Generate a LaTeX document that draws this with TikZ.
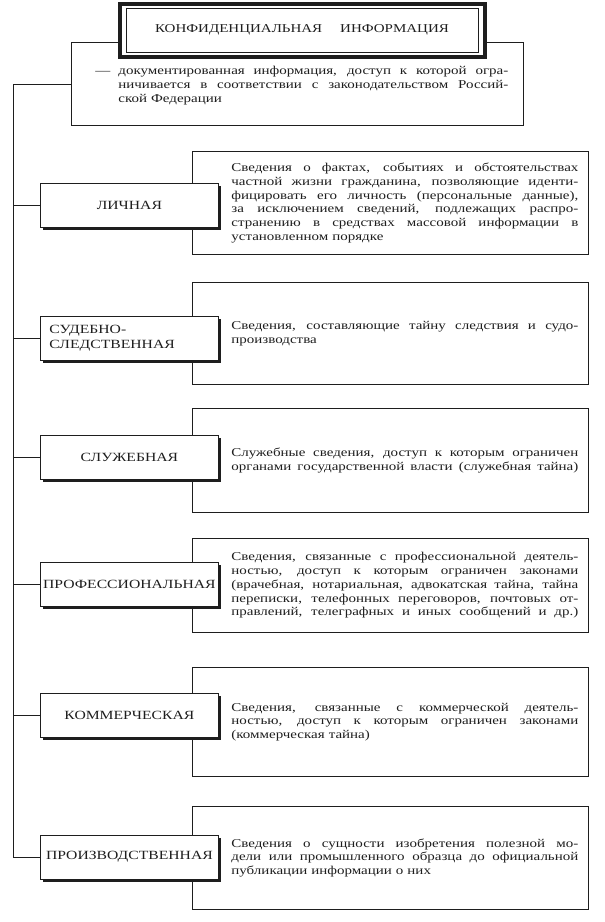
\documentclass[tikz,border=0pt]{standalone}
\usepackage{fontspec}
\setmainfont{Liberation Serif}[FakeStretch=1.25]
\usetikzlibrary{positioning,shadows}
\definecolor{inkgray}{HTML}{1E1E1E}

\newlength{\infoind}\setlength{\infoind}{27.25pt}
\newlength{\infow}\setlength{\infow}{260.25pt}
\newcommand{\jl}[1]{\hspace*{\infoind}\makebox[\infow][s]{\spaceskip=0pt\xspaceskip=0pt\relax #1}}
\newcommand{\lastl}[1]{\hspace*{\infoind}#1}

\begin{document}
\begin{tikzpicture}[
  x=0.75pt, y=-0.75pt,
  headframe/.style={draw=inkgray, line width=2.4pt, fill=white,
                    minimum width=273.75pt, minimum height=39.75pt},
  headbox/.style={draw=inkgray, line width=0.6pt, fill=white,
                  font=\fontsize{9}{11}\selectfont, text=inkgray,
                  minimum width=264pt, minimum height=33pt},
  defbox/.style={draw=inkgray, line width=0.6pt, anchor=north west,
                 align=left, text width=335pt, inner xsep=2pt,
                 font=\fontsize{9}{10.3}\selectfont, text=inkgray},
  kindbox/.style={draw=inkgray, line width=0.6pt, fill=white, anchor=west,
                  font=\fontsize{9.4}{11}\selectfont, align=center, text=inkgray,
                  minimum width=133.5pt, minimum height=33pt, inner xsep=1pt,
                  general shadow={fill=inkgray, shadow xshift=2pt, shadow yshift=-2pt}},
  infobox/.style={draw=inkgray, line width=0.6pt, anchor=north west,
                  align=left, text width=293pt, inner xsep=2pt,
                  font=\fontsize{9}{10.3}\selectfont, text=inkgray},
  link/.style={draw=inkgray, line width=0.6pt},
]
  \useasboundingbox (0,0) rectangle (604,922);

  %% Definition under the title
  \node[defbox, minimum height=62.25pt] (defn) at (71,42)
    {\rule{0pt}{9pt}\hspace*{16pt}\makebox[17.25pt][l]{—}\makebox[292.5pt][s]{\spaceskip=0pt\xspaceskip=0pt\relax документированная информация, доступ к которой огра-}\\
     \hspace*{33.25pt}\makebox[292.5pt][s]{\spaceskip=0pt\relax ничивается в соответствии с законодательством Россий-}\\
     \hspace*{33.25pt}ской Федерации};

  %% Title with double frame
  \node[headframe] (headfr) at (302.5,30.5) {};
  \node[headbox] (head) at (302,30) {КОНФИДЕНЦИАЛЬНАЯ\hspace{13.5pt}ИНФОРМАЦИЯ};

  %% Description boxes
  \node[infobox, minimum height=77.25pt] (i1) at (192,151)
    {\jl{Сведения о фактах, событиях и обстоятельствах}\\
     \jl{частной жизни гражданина, позволяющие иденти-}\\
     \jl{фицировать его личность (персональные данные),}\\
     \jl{за исключением сведений, подлежащих распро-}\\
     \jl{странению в средствах массовой информации в}\\
     \lastl{установленном порядке}};
  \node[infobox, minimum height=76.5pt] (i2) at (192,282)
    {\jl{Сведения, составляющие тайну следствия и судо-}\\
     \lastl{производства}};
  \node[infobox, minimum height=78pt] (i3) at (192,408)
    {\jl{Служебные сведения, доступ к которым ограничен}\\
     \jl{органами государственной власти (служебная тайна)}};
  \node[infobox, minimum height=70.5pt] (i4) at (192,538)
    {\jl{Сведения, связанные с профессиональной деятель-}\\
     \jl{ностью, доступ к которым ограничен законами}\\
     \jl{(врачебная, нотариальная, адвокатская тайна, тайна}\\
     \jl{переписки, телефонных переговоров, почтовых от-}\\
     \jl{правлений, телеграфных и иных сообщений и др.)}};
  \node[infobox, minimum height=81.75pt] (i5) at (192,667)
    {\jl{Сведения, связанные с коммерческой деятель-}\\
     \jl{ностью, доступ к которым ограничен законами}\\
     \lastl{(коммерческая тайна)}};
  \node[infobox, minimum height=77.25pt] (i6) at (192,806)
    {\jl{Сведения о сущности изобретения полезной мо-}\\
     \jl{дели или промышленного образца до официальной}\\
     \lastl{публикации информации о них}};

  %% Kinds of confidential information
  \node[kindbox] (k1) at (40,205) {ЛИЧНАЯ};
  \node[kindbox, align=left, text width=120pt] (k2) at (40,338) {СУДЕБНО-\\СЛЕДСТВЕННАЯ};
  \node[kindbox] (k3) at (40,457) {СЛУЖЕБНАЯ};
  \node[kindbox] (k4) at (40,584) {ПРОФЕССИОНАЛЬНАЯ};
  \node[kindbox] (k5) at (40,715) {КОММЕРЧЕСКАЯ};
  \node[kindbox] (k6) at (40,857) {ПРОИЗВОДСТВЕННАЯ};

  %% Spine on the left
  \coordinate (spine) at (13,0);
  \draw[link] (defn.west) -- (defn.west -| spine) |- (k6.west);
  \foreach \k in {k1,k2,k3,k4,k5}
    \draw[link] (\k.west) -- (\k.west -| spine);

\end{tikzpicture}
\end{document}
